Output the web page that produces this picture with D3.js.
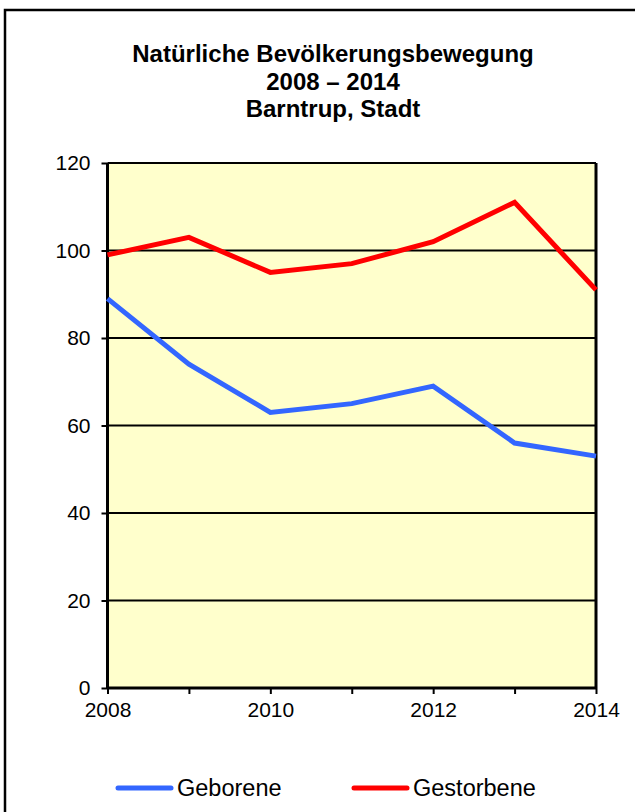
<!DOCTYPE html>
<html>
<head>
<meta charset="utf-8">
<script src="https://cdn.jsdelivr.net/npm/d3@7"></script>
<style>
  html, body { margin: 0; padding: 0; background: #ffffff; }
  svg { display: block; }
  text { font-family: "Liberation Sans", Arial, sans-serif; fill: #000; }
</style>
</head>
<body>
<svg id="chart" width="635" height="812"></svg>
<script>
const titleLines = ["Natürliche Bevölkerungsbewegung", "2008 – 2014", "Barntrup, Stadt"];
const years = [2008, 2009, 2010, 2011, 2012, 2013, 2014];
const geborene = [89, 74, 63, 65, 69, 56, 53];
const gestorbene = [99, 103, 95, 97, 102, 111, 91];
const yTicks = [0, 20, 40, 60, 80, 100, 120];
const xTickLabels = [2008, 2010, 2012, 2014];
const seriesNames = ["Geborene", "Gestorbene"];
const seriesColors = ["#3366ff", "#ff0000"];

const svg = d3.select("#chart");
const pLeft = 107.5, pRight = 596, pTop = 163, pBottom = 688;

// outer frame
svg.append("rect").attr("x", 5).attr("y", 10).attr("width", 700).attr("height", 900)
  .attr("fill", "none").attr("stroke", "#000").attr("stroke-width", 2.5);

// title
svg.append("g").selectAll("text").data(titleLines).join("text")
  .attr("x", 333).attr("y", (d, i) => 62 + i * 27.5)
  .attr("text-anchor", "middle").attr("font-weight", "bold").attr("font-size", 24)
  .text(d => d);

const x = d3.scaleLinear().domain([2008, 2014]).range([pLeft, pRight]);
const y = d3.scaleLinear().domain([0, 120]).range([pBottom, pTop]);

// plot background
svg.append("rect").attr("x", pLeft).attr("y", pTop).attr("width", pRight - pLeft).attr("height", pBottom - pTop)
  .attr("fill", "#ffffcc");

// gridlines
svg.append("g").selectAll("line").data(yTicks.filter(v => v > 0)).join("line")
  .attr("x1", pLeft).attr("x2", pRight).attr("y1", d => y(d)).attr("y2", d => y(d))
  .attr("stroke", "#000").attr("stroke-width", 2);

// right border
svg.append("line").attr("x1", pRight).attr("x2", pRight).attr("y1", pTop).attr("y2", pBottom)
  .attr("stroke", "#000").attr("stroke-width", 3);

// y axis
const yAxis = svg.append("g").attr("transform", `translate(${pLeft},0)`)
  .call(d3.axisLeft(y).tickValues(yTicks).tickSize(6).tickPadding(11).tickFormat(d3.format("d")));
yAxis.select(".domain").attr("stroke", "#000").attr("stroke-width", 3).attr("d", `M0,${pTop}V${pBottom}`);
yAxis.selectAll(".tick line").attr("stroke", "#000").attr("stroke-width", 2);
yAxis.selectAll(".tick text").attr("font-size", 21).attr("font-family", "Liberation Sans, Arial, sans-serif").attr("fill", "#000");

// x axis
const xAxis = svg.append("g").attr("transform", `translate(0,${pBottom})`)
  .call(d3.axisBottom(x).tickValues(years).tickSize(6).tickPadding(8)
    .tickFormat(d => xTickLabels.includes(d) ? String(d) : ""));
xAxis.select(".domain").attr("stroke", "#000").attr("stroke-width", 3).attr("d", `M${pLeft},0H${pRight}`);
xAxis.selectAll(".tick line").attr("stroke", "#000").attr("stroke-width", 2);
xAxis.selectAll(".tick text").attr("font-size", 21).attr("font-family", "Liberation Sans, Arial, sans-serif").attr("fill", "#000");

// lines
const line = d3.line().x((d, i) => x(years[i])).y(d => y(d));
[geborene, gestorbene].forEach((s, k) => {
  svg.append("path").datum(s).attr("d", line).attr("fill", "none")
    .attr("stroke", seriesColors[k]).attr("stroke-width", 5).attr("stroke-linejoin", "miter");
});

// legend
const legendX = [118, 354];
const lg = svg.append("g").selectAll("g").data(seriesNames).join("g")
  .attr("transform", (d, i) => `translate(${legendX[i]},788)`);
lg.append("line").attr("x1", 0).attr("x2", 53).attr("y1", 0).attr("y2", 0)
  .attr("stroke", (d, i) => seriesColors[i]).attr("stroke-width", 5).attr("stroke-linecap", "round");
lg.append("text").attr("x", 59).attr("y", 8).attr("font-size", 23.5).text(d => d);
</script>
</body>
</html>
